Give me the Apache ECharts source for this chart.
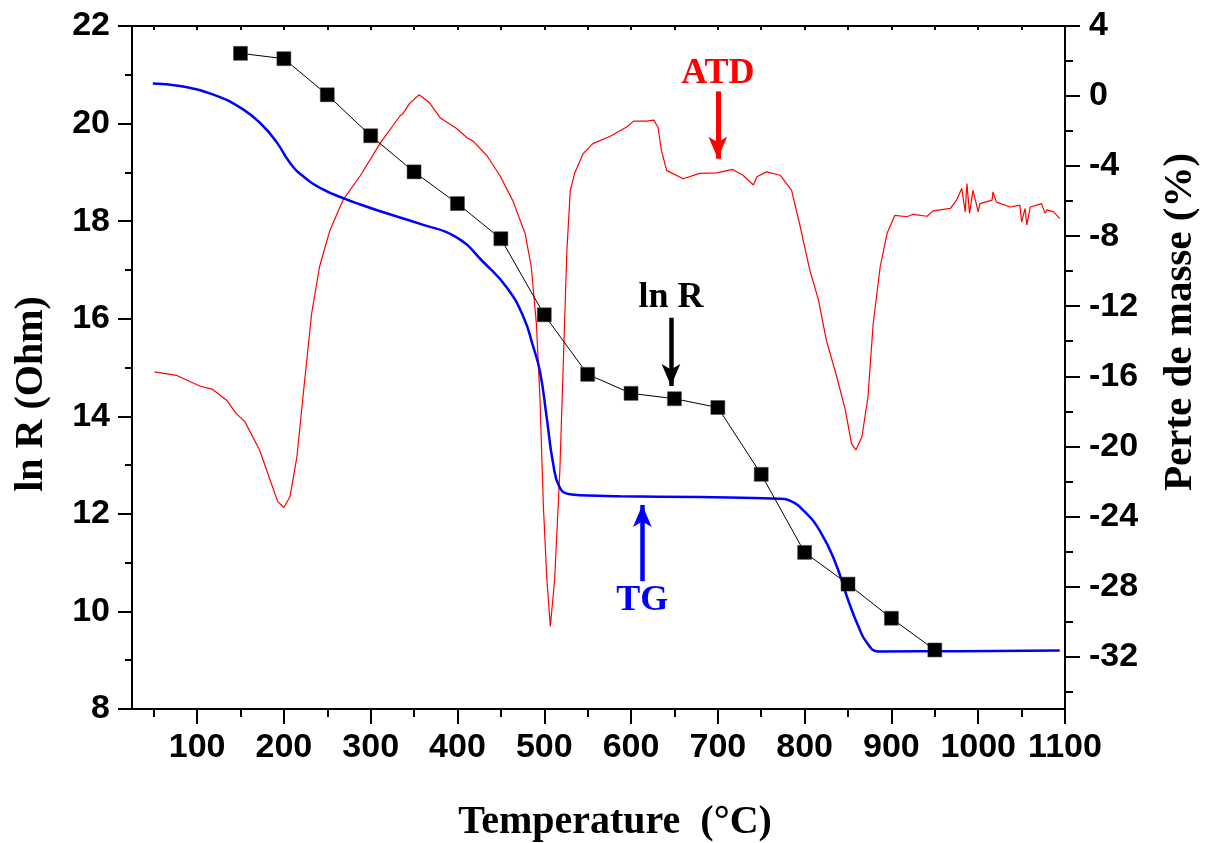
<!DOCTYPE html>
<html>
<head>
<meta charset="utf-8">
<script src="https://cdn.jsdelivr.net/npm/echarts@6/dist/echarts.min.js"></script>
<style>
html,body{margin:0;padding:0;background:#fff;overflow:hidden;}
#chart{width:1207px;height:843px;}
</style>
</head>
<body>
<div id="chart"></div>
<script>
// ---------- data ----------
const lnRTemp = [150,200,250,300,350,400,450,500,550,600,650,700,750,800,850,900,950];
const lnRValues = [21.44,21.33,20.59,19.75,19.01,18.36,17.64,16.08,14.86,14.47,14.36,14.18,12.81,11.21,10.56,9.86,9.21];

const tgTemp = [49,80,118,153,176,192,207,222,245,272,288,311,357,399,430,457,476,487,495,503,510,518,530,541,587,679,772,783,800,818,835,850,862,872,885,979,1094];
const tgValues = [0.71,0.57,0.10,-0.76,-1.71,-2.66,-3.81,-4.57,-5.33,-5.90,-6.19,-6.58,-7.30,-8.07,-9.49,-10.94,-12.61,-14.27,-15.72,-18.42,-20.91,-22.37,-22.74,-22.79,-22.85,-22.90,-22.99,-23.10,-23.73,-24.87,-26.59,-28.76,-30.29,-31.23,-31.71,-31.70,-31.66];

const atdTemp = [51,76,103,118,134,145,155,172,184,193,200,207,215,222,232,241,253,268,288,311,334,337,345,356,368,380,399,411,418,434,449,464,478,485,491,495,499,503,507,512,518,522,526,530,535,545,556,576,595,603,618,626,631,635,641,660,679,699,717,729,741,745,756,772,785,795,806,816,825,837,847,854,859,866,873,879,887,895,904,918,925,941,948,968,975,981,985,987,990,994,1000,1002,1016,1017,1021,1037,1048,1050,1054,1056,1060,1073,1077,1079,1087,1094];
const atdValues = [14.91,14.84,14.62,14.55,14.33,14.06,13.89,13.31,12.70,12.25,12.13,12.35,13.17,14.40,16.11,17.06,17.81,18.43,18.93,19.60,20.16,20.20,20.42,20.59,20.42,20.12,19.90,19.71,19.64,19.34,18.93,18.41,17.74,17.07,15.88,14.39,12.15,10.66,9.69,10.66,12.90,15.13,17.37,18.63,18.98,19.39,19.59,19.74,19.93,20.05,20.05,20.07,19.93,19.45,19.04,18.87,18.98,18.99,19.06,18.94,18.74,18.91,19.01,18.94,18.63,17.88,16.99,16.38,15.56,14.81,14.12,13.44,13.31,13.58,14.40,15.90,17.06,17.75,18.12,18.09,18.14,18.10,18.21,18.26,18.43,18.67,18.19,18.77,18.16,18.63,18.19,18.36,18.43,18.60,18.39,18.29,18.33,17.98,18.26,17.92,18.29,18.36,18.16,18.23,18.19,18.05];

const xLabels = [100,200,300,400,500,600,700,800,900,1000,1100];
const xMinor = [50,150,250,350,450,550,650,750,850,950,1050];
const xTop = [50,100,150,200,250,300,350,400,450,500,550,600,650,700,750,800,850,900,950,1000,1050];
const rightLabels = [-32,-28,-24,-20,-16,-12,-8,-4,0,4];
const rightMinor = [-34,-30,-26,-22,-18,-14,-10,-6,-2,2];

const xTitle = 'Temperature  (\u00B0C)';
const yLeftTitle = 'ln R (Ohm)';
const yRightTitle = 'Perte de masse (%)';

// ---------- chart ----------
const sans = '"Liberation Sans", Arial, sans-serif';
const serif = '"Liberation Serif", "Times New Roman", serif';
const black = '#000';
const axLine = {show:true, onZero:false, lineStyle:{color:black, width:2}};
const tickStyle = {color:black, width:2};
const plain = v => String(v);

const pair = (a,b) => a.map((v,i)=>[v,b[i]]);

const chart = echarts.init(document.getElementById('chart'), null, {renderer:'canvas'});
chart.setOption({
  animation:false,
  backgroundColor:'#fff',
  grid:{left:132, right:142, top:26, bottom:134, containLabel:false},
  graphic:[
    {type:'text', x:615, y:823, silent:true,
     style:{text:xTitle, textAlign:'center', textVerticalAlign:'middle', font:'bold 40px "Liberation Serif", serif', fill:black}},
    {type:'text', x:32, y:394, rotation:Math.PI/2, silent:true,
     style:{text:yLeftTitle, textAlign:'center', textVerticalAlign:'middle', font:'bold 40px "Liberation Serif", serif', fill:black}},
    {type:'text', x:1180, y:322, rotation:Math.PI/2, silent:true,
     style:{text:yRightTitle, textAlign:'center', textVerticalAlign:'middle', font:'bold 41px "Liberation Serif", serif', fill:black}}
  ],
  xAxis:[
    {type:'value', position:'bottom', min:25, max:1100,
     axisLine:axLine,
     axisTick:{show:true, inside:false, length:15, lineStyle:tickStyle, customValues:xLabels},
     axisLabel:{show:true, customValues:xLabels, formatter:plain, margin:22, fontFamily:sans, fontWeight:'bold', fontSize:34, color:black},
     splitLine:{show:false}},
    {type:'value', position:'bottom', min:25, max:1100,
     axisLine:{show:false, onZero:false},
     axisTick:{show:true, length:8, lineStyle:tickStyle, customValues:xMinor},
     axisLabel:{show:false}, splitLine:{show:false}},
    {type:'value', position:'top', min:25, max:1100,
     axisLine:axLine,
     axisTick:{show:true, inside:true, length:4, lineStyle:tickStyle, customValues:xTop},
     axisLabel:{show:false}, splitLine:{show:false}}
  ],
  yAxis:[
    {type:'value', position:'left', min:8, max:22, interval:2,
     axisLine:axLine,
     axisTick:{show:true, length:14, lineStyle:tickStyle},
     minorTick:{show:true, splitNumber:2, length:7, lineStyle:tickStyle},
     axisLabel:{margin:22, formatter:plain, fontFamily:sans, fontWeight:'bold', fontSize:34, color:black},
     splitLine:{show:false}},
    {type:'value', position:'right', min:-35, max:4,
     axisLine:axLine,
     axisTick:{show:true, length:15, lineStyle:tickStyle, customValues:rightLabels},
     axisLabel:{show:true, customValues:rightLabels, formatter:plain, margin:24, fontFamily:sans, fontWeight:'bold', fontSize:34, color:black},
     splitLine:{show:false}},
    {type:'value', position:'right', min:-35, max:4,
     axisLine:{show:false, onZero:false},
     axisTick:{show:true, length:8, lineStyle:tickStyle, customValues:rightMinor},
     axisLabel:{show:false}, splitLine:{show:false}}
  ],
  series:[
    {name:'ATD', type:'line', xAxisIndex:0, yAxisIndex:0, data:pair(atdTemp, atdValues),
     showSymbol:false, symbol:'none', smooth:false,
     lineStyle:{color:'#ff0000', width:1.2}, z:2, silent:true,
     markLine:{silent:true, symbol:['none','arrow'], symbolSize:[14,22],
       lineStyle:{color:'#ff0000', width:5, type:'solid'},
       label:{show:true, position:'start', formatter:'ATD', distance:0, color:'#ff0000', fontFamily:serif, fontWeight:'bold', fontSize:36},
       data:[[{coord:[700,20.66]},{coord:[700,19.28]}]]}},
    {name:'TG', type:'line', xAxisIndex:0, yAxisIndex:1, data:pair(tgTemp, tgValues),
     showSymbol:false, symbol:'none', smooth:0.5,
     lineStyle:{color:'#0000ff', width:2.5}, z:3, silent:true,
     markLine:{silent:true, symbol:['none','arrow'], symbolSize:[14,22],
       lineStyle:{color:'#0000ff', width:4.5, type:'solid'},
       label:{show:true, position:'start', formatter:'TG', distance:2, color:'#0000ff', fontFamily:serif, fontWeight:'bold', fontSize:36},
       data:[[{coord:[613,-27.7]},{coord:[613,-23.35]}]]}},
    {name:'ln R', type:'line', xAxisIndex:0, yAxisIndex:0, data:pair(lnRTemp, lnRValues),
     symbol:'rect', symbolSize:14, showSymbol:true,
     itemStyle:{color:black, borderColor:'#444', borderWidth:0.5},
     lineStyle:{color:black, width:1}, z:4, silent:true,
     markLine:{silent:true, symbol:['none','arrow'], symbolSize:[14,22],
       lineStyle:{color:black, width:4.5, type:'solid'},
       label:{show:true, position:'start', formatter:'ln R', distance:2, color:black, fontFamily:serif, fontWeight:'bold', fontSize:36},
       data:[[{coord:[646,16.02]},{coord:[646,14.62]}]]}}
  ]
});
</script>
</body>
</html>
